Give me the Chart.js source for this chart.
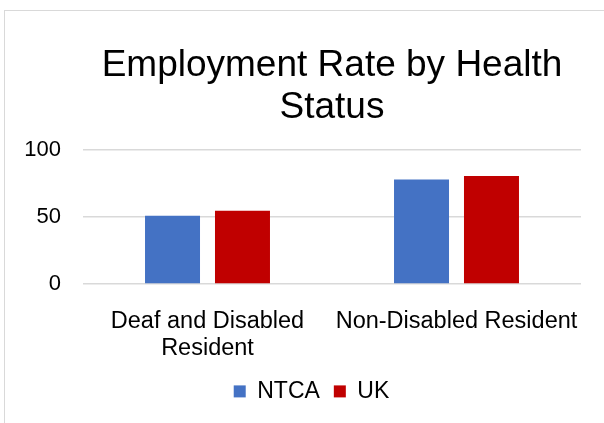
<!DOCTYPE html>
<html>
<head>
<meta charset="utf-8">
<script src="https://cdn.jsdelivr.net/npm/chart.js@4"></script>
<style>
  html, body { margin: 0; padding: 0; background: #fff; overflow: hidden; width: 604px; height: 423px; }
  #frame { position: absolute; left: 4px; top: 10px; width: 640px; height: 440px; border: 1px solid #d9d9d9; box-sizing: border-box; }
  #chart { position: absolute; left: 0; top: 0; }
</style>
</head>
<body>
<div id="frame"></div>
<canvas id="chart" width="623" height="423"></canvas>
<script>
  // Datos del gráfico
  const categories = [["Deaf and Disabled", "Resident"], "Non-Disabled Resident"];
  const seriesNames = ["NTCA", "UK"];
  const ntcaValues = [51, 78];
  const ukValues = [54.7, 80.6];
  const yTicks = [0, 50, 100];
  const titleLines = ["Employment Rate by Health", "Status"];

  const FONT = "'Liberation Sans', Arial, sans-serif";
  const BLUE = "#4472C4";
  const RED = "#C00000";
  const GRID = "#d9d9d9";

  new Chart(document.getElementById("chart"), {
    type: "bar",
    data: {
      labels: categories,
      datasets: [
        { label: seriesNames[0], data: ntcaValues, backgroundColor: BLUE, borderWidth: 0 },
        { label: seriesNames[1], data: ukValues, backgroundColor: RED, borderWidth: 0 }
      ]
    },
    options: {
      responsive: false,
      animation: false,
      devicePixelRatio: 1,
      categoryPercentage: 0.562,
      barPercentage: 0.786,
      layout: { padding: { top: 0, bottom: 10.1, left: 0, right: 0 } },
      plugins: {
        tooltip: { enabled: false },
        title: {
          display: true,
          text: titleLines,
          fullSize: false,
          color: "#000",
          font: { family: FONT, size: 37, weight: "normal", lineHeight: 42 / 37 },
          padding: { top: 45.2, bottom: 20.8 }
        },
        legend: {
          position: "bottom",
          labels: {
            color: "#000",
            font: { family: FONT, size: 23 },
            boxWidth: 12,
            boxHeight: 12,
            padding: 14
          }
        }
      },
      scales: {
        x: {
          grid: { display: false },
          border: { display: false },
          ticks: { color: "#000", font: { family: FONT, size: 23.5, lineHeight: 27.3 / 23.5 }, padding: 15.9, maxRotation: 0, autoSkip: false },
          afterFit: (s) => { s.height = 81.9; }
        },
        y: {
          min: 0,
          max: 100,
          border: { display: false },
          grid: { color: GRID, lineWidth: 1.5, drawTicks: false },
          afterBuildTicks: (s) => { s.ticks = yTicks.map((v) => ({ value: v })); },
          ticks: { color: "#000", font: { family: FONT, size: 22 }, padding: 22 },
          afterFit: (s) => { s.width = 83; }
        },
        // eje vacío a la derecha, solo para dejar margen
        yRight: {
          position: "right",
          display: true,
          grid: { display: false },
          border: { display: false },
          ticks: { display: false },
          afterFit: (s) => { s.width = 42; }
        }
      }
    }
  });
</script>
</body>
</html>
